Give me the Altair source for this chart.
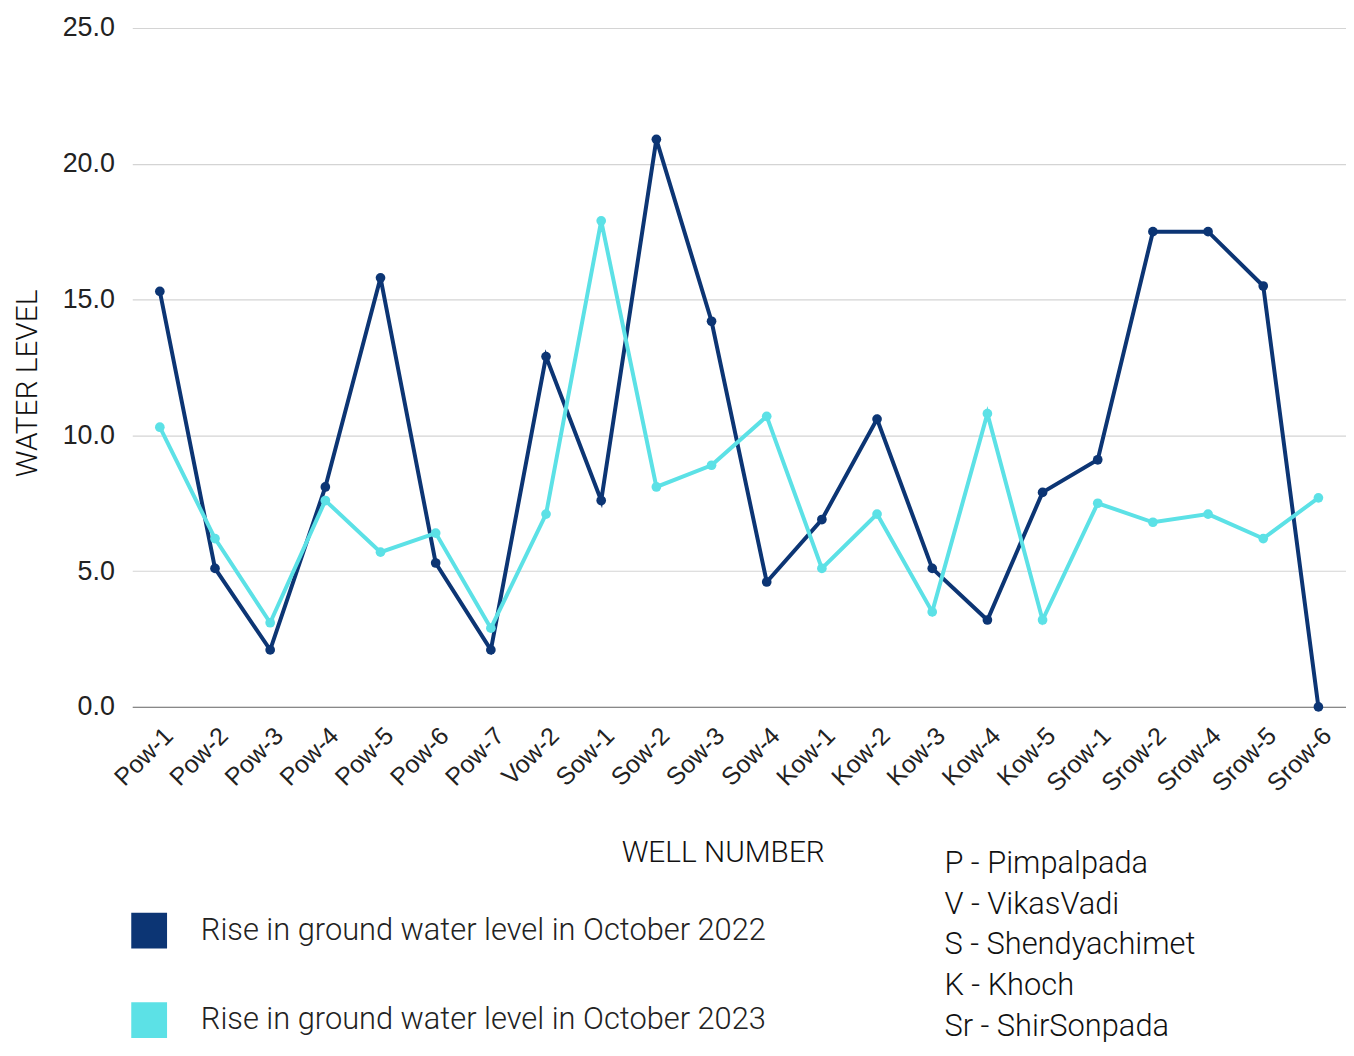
import altair as alt
import pandas as pd

wells = ["Pow-1", "Pow-2", "Pow-3", "Pow-4", "Pow-5", "Pow-6", "Pow-7", "Vow-2",
         "Sow-1", "Sow-2", "Sow-3", "Sow-4", "Kow-1", "Kow-2", "Kow-3", "Kow-4",
         "Kow-5", "Srow-1", "Srow-2", "Srow-4", "Srow-5", "Srow-6"]
rise_2022 = [15.3, 5.1, 2.1, 8.1, 15.8, 5.3, 2.1, 12.9, 7.6, 20.9, 14.2, 4.6,
             6.9, 10.6, 5.1, 3.2, 7.9, 9.1, 17.5, 17.5, 15.5, 0.0]
rise_2023 = [10.3, 6.2, 3.1, 7.6, 5.7, 6.4, 2.9, 7.1, 17.9, 8.1, 8.9, 10.7,
             5.1, 7.1, 3.5, 10.8, 3.2, 7.5, 6.8, 7.1, 6.2, 7.7]
series_names = ["Rise in ground water level in October 2022",
                "Rise in ground water level in October 2023"]
series_colors = ["#0C3574", "#5CE1E6"]
key_lines = ["P - Pimpalpada", "V - VikasVadi", "S -  Shendyachimet",
             "K -  Khoch", "Sr - ShirSonpada"]

rows = []
for name, vals in zip(series_names, [rise_2022, rise_2023]):
    for w, v in zip(wells, vals):
        rows.append({"well": w, "value": v, "series": name})
df = pd.DataFrame(rows)

FONT = "Roboto"
LABEL_FONT = "Liberation Sans"

x = alt.X("well:N", sort=wells,
          scale=alt.Scale(type="point", padding=0.5),
          axis=alt.Axis(title="WELL NUMBER", labelAngle=-45, labelFontSize=25,
                        labelFont=LABEL_FONT, labelColor="#222",
                        ticks=False, domainColor="#888", domainWidth=1.2,
                        labelPadding=16, titleFontSize=30, titleFont=FONT,
                        titleFontWeight=300, titleColor="#111",
                        titleX=594, titleY=155, titleAlign="center",
                        titleBaseline="alphabetic", grid=False))
y = alt.Y("value:Q",
          scale=alt.Scale(domain=[0, 25], nice=False),
          axis=alt.Axis(title="WATER LEVEL", values=[0, 5, 10, 15, 20, 25],
                        format=".1f", labelFontSize=27, labelFont=LABEL_FONT,
                        labelColor="#222", labelPadding=18, ticks=False, domain=False,
                        gridColor="#d4d4d4", gridWidth=1.2,
                        titleFontSize=30, titleFont=FONT, titleFontWeight=300,
                        titleColor="#111", titleAngle=270, titleX=-96, titleY=357,
                        titleAlign="center", titleBaseline="alphabetic"))

lines = alt.Chart(df).mark_line(strokeWidth=4).encode(
    x=x, y=y,
    stroke=alt.Stroke("series:N",
                      scale=alt.Scale(domain=series_names, range=series_colors),
                      legend=None),
    detail="series:N")

points = alt.Chart(df).mark_point(filled=True, size=95, opacity=1).encode(
    x=x, y=y,
    fill=alt.Fill("series:N",
                  scale=alt.Scale(domain=series_names, range=series_colors),
                  legend=alt.Legend(title=None, orient="none", legendX=-1, legendY=890,
                                    symbolType="square", symbolSize=1296,
                                    symbolStrokeWidth=0, symbolOpacity=1,
                                    labelFontSize=31, labelFont=FONT,
                                    labelFontWeight=300,
                                    labelColor="#222", labelOffset=34,
                                    labelLimit=800, rowPadding=54,
                                    direction="vertical")))

key_df = pd.DataFrame({"text": ["\n".join(key_lines)]})
key = alt.Chart(key_df).mark_text(align="left", baseline="top", fontSize=31,
                                  font=FONT, fontWeight=300, color="#111",
                                  lineBreak="\n", lineHeight=41).encode(
    text="text:N", x=alt.value(817), y=alt.value(826))

chart = alt.layer(lines, points, key).resolve_scale(fill="independent").properties(
    width=1221, height=683,
    autosize=alt.AutoSizeParams(type="none"),
    padding={"left": 125, "top": 17, "right": 0, "bottom": 340},
).configure_view(stroke=None)

chart.save("out.html", embed_options={"renderer": "svg", "actions": False})
